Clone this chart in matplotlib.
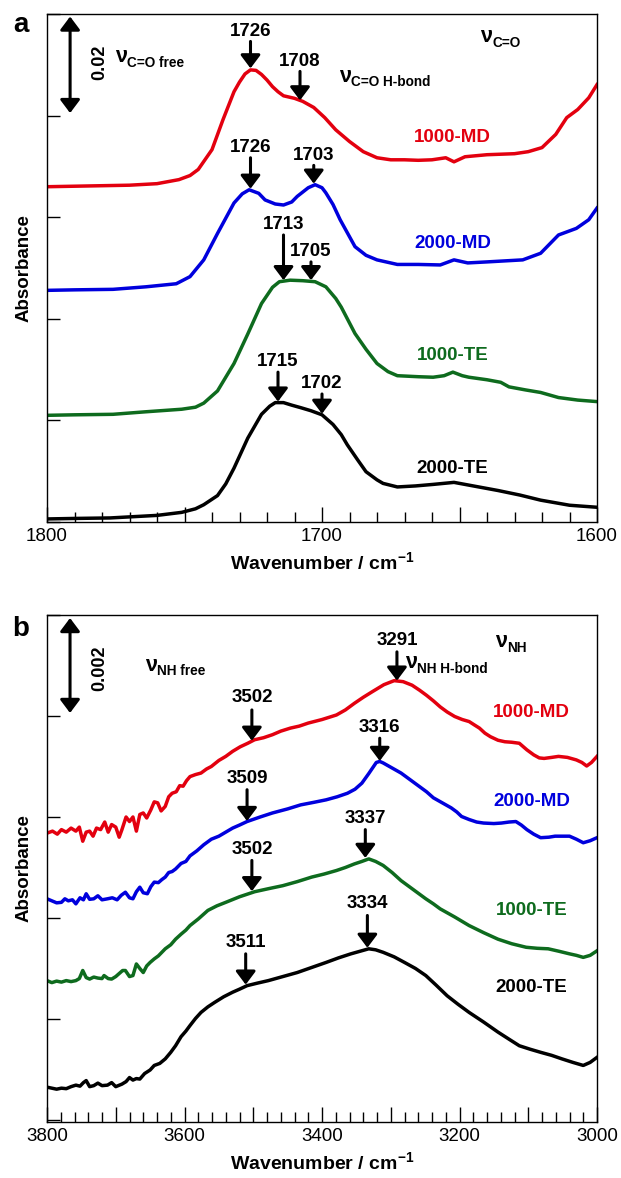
import numpy as np
import matplotlib
matplotlib.use('Agg')
import matplotlib.pyplot as plt
from matplotlib.ticker import MultipleLocator, FuncFormatter

plt.rcParams['font.family'] = ['Liberation Sans', 'DejaVu Sans']
plt.rcParams['mathtext.fontset'] = 'custom'
plt.rcParams['mathtext.rm'] = 'Liberation Sans'
plt.rcParams['mathtext.bf'] = 'Liberation Sans:bold'

RED, BLUE, GREEN, BLACK = '#e3000f', '#0000dd', '#0e6b1e', 'black'

# ---- panel a : C=O region (wavenumber, absorbance) ----
wn_a_md1 = [1800, 1790, 1780, 1770, 1760, 1752, 1748, 1745, 1740, 1736, 1732, 1730, 1728, 1726, 1724,
            1722, 1720, 1718, 1716, 1714, 1710, 1707, 1703, 1699, 1695, 1690, 1685, 1680, 1675, 1670,
            1665, 1660, 1655, 1652, 1648, 1640, 1630, 1625, 1620, 1615, 1611, 1607, 1603, 1600]
ab_a_md1 = [0.0660, 0.0661, 0.0662, 0.0663, 0.0666, 0.0674, 0.0682, 0.0694, 0.0733, 0.0792, 0.0847,
            0.0866, 0.0882, 0.0890, 0.0889, 0.0881, 0.0870, 0.0857, 0.0847, 0.0839, 0.0834, 0.0828,
            0.0816, 0.0796, 0.0772, 0.0749, 0.0729, 0.0717, 0.0713, 0.0713, 0.0712, 0.0713, 0.0717,
            0.0709, 0.0719, 0.0723, 0.0725, 0.0729, 0.0737, 0.0763, 0.0796, 0.0812, 0.0835, 0.0861]

wn_a_md2 = [1800, 1790, 1776, 1764, 1753, 1748, 1743, 1738, 1732, 1729, 1726.5, 1723, 1720.7, 1717,
            1714, 1711, 1709, 1705, 1702.5, 1700, 1698.6, 1696, 1693.4, 1688, 1684, 1680, 1672.6,
            1665, 1657, 1652, 1647, 1640, 1627, 1620.5, 1614, 1607.5, 1603, 1600]
ab_a_md2 = [0.0456, 0.0457, 0.0458, 0.0463, 0.0469, 0.0483, 0.0516, 0.0568, 0.0628, 0.0646, 0.0654,
            0.0647, 0.0634, 0.0626, 0.0624, 0.0630, 0.0641, 0.0658, 0.0664, 0.0658, 0.0648, 0.0625,
            0.0595, 0.0542, 0.0525, 0.0516, 0.0507, 0.0507, 0.0506, 0.0516, 0.0510, 0.0512, 0.0516,
            0.0529, 0.0565, 0.0578, 0.0595, 0.0618]

wn_a_te1 = [1800, 1790, 1776, 1764, 1751, 1746, 1743, 1738, 1732, 1727, 1722, 1718, 1715.5, 1711.6,
            1707, 1702.5, 1698.6, 1695, 1693, 1688, 1684, 1680, 1676, 1672.6, 1665, 1659.6, 1655.6,
            1652.4, 1649, 1646.6, 1640, 1635, 1632, 1626, 1620.5, 1614, 1607, 1600]
ab_a_te1 = [0.0210, 0.0211, 0.0212, 0.0217, 0.0222, 0.0226, 0.0234, 0.0258, 0.0312, 0.0370, 0.0430,
            0.0462, 0.0473, 0.0476, 0.0475, 0.0473, 0.0463, 0.0440, 0.0423, 0.0371, 0.0340, 0.0312,
            0.0296, 0.0288, 0.0286, 0.0285, 0.0288, 0.0295, 0.0288, 0.0285, 0.0280, 0.0275, 0.0266,
            0.0260, 0.0255, 0.0245, 0.0240, 0.0237]

wn_a_te2 = [1800, 1790, 1777, 1760, 1751, 1746, 1743, 1738, 1735, 1732, 1727, 1722, 1719, 1717, 1714,
            1711, 1707.7, 1704, 1700, 1696, 1693, 1690.8, 1687, 1684, 1680, 1677.8, 1672.6, 1666,
            1659.6, 1652, 1645, 1636, 1628, 1620.5, 1610, 1600]
ab_a_te2 = [0.0006, 0.0007, 0.0008, 0.0013, 0.0019, 0.0026, 0.0034, 0.0052, 0.0075, 0.0106, 0.0165,
            0.0212, 0.0228, 0.0235, 0.0235, 0.0230, 0.0225, 0.0219, 0.0211, 0.0192, 0.0172, 0.0152,
            0.0122, 0.0099, 0.0083, 0.0076, 0.0069, 0.0071, 0.0074, 0.0078, 0.0071, 0.0062, 0.0053,
            0.0043, 0.0033, 0.0029]

# ---- panel b : N-H region ----
wn_b_md1 = [3800, 3792, 3785, 3779, 3772, 3765, 3758, 3753, 3748, 3743, 3738, 3733, 3728, 3722, 3716,
            3711, 3706, 3700, 3695, 3691, 3685, 3680, 3675, 3670, 3665, 3660, 3655, 3649, 3644, 3639,
            3634, 3628, 3623, 3618, 3612, 3607, 3602, 3597, 3592, 3584, 3576, 3568, 3561, 3550, 3540,
            3530, 3519, 3508, 3498, 3485, 3472, 3460, 3446, 3433, 3420, 3400, 3379, 3366, 3353, 3340,
            3327, 3310, 3295, 3282, 3269, 3258, 3248, 3238, 3228, 3218, 3207, 3196, 3186, 3178, 3171,
            3163, 3155, 3144, 3134, 3124, 3113, 3102, 3092, 3084, 3077, 3066, 3056, 3043, 3030, 3022,
            3015, 3008, 3000]
ab_b_md1 = [0.00568, 0.00572, 0.00566, 0.00575, 0.00570, 0.00578, 0.00572, 0.00580, 0.00552, 0.00570,
            0.00572, 0.00562, 0.00578, 0.00575, 0.00590, 0.00570, 0.00585, 0.00580, 0.00560, 0.00575,
            0.00600, 0.00591, 0.00600, 0.00572, 0.00605, 0.00608, 0.00598, 0.00614, 0.00630, 0.00628,
            0.00612, 0.00621, 0.00640, 0.00647, 0.00650, 0.00662, 0.00661, 0.00672, 0.00680, 0.00684,
            0.00687, 0.00695, 0.00700, 0.00712, 0.00720, 0.00730, 0.00739, 0.00746, 0.00753, 0.00757,
            0.00763, 0.00770, 0.00776, 0.00780, 0.00786, 0.00793, 0.00802, 0.00812, 0.00825, 0.00837,
            0.00848, 0.00862, 0.00870, 0.00868, 0.00861, 0.00851, 0.00841, 0.00830, 0.00818, 0.00808,
            0.00799, 0.00793, 0.00789, 0.00782, 0.00776, 0.00766, 0.00759, 0.00752, 0.00749, 0.00748,
            0.00746, 0.00733, 0.00723, 0.00717, 0.00716, 0.00718, 0.00720, 0.00718, 0.00713, 0.00708,
            0.00701, 0.00708, 0.00720]

wn_b_md2 = [3800, 3793, 3786, 3779, 3774, 3769, 3763, 3758, 3752, 3747, 3743, 3738, 3732, 3726, 3720,
            3712, 3705, 3698, 3692, 3686, 3680, 3675, 3670, 3665, 3660, 3654, 3649, 3644, 3638, 3633,
            3628, 3623, 3618, 3613, 3605, 3598, 3592, 3587, 3582, 3572, 3561, 3550, 3540, 3530, 3520,
            3509, 3490, 3472, 3450, 3431, 3412, 3394, 3378, 3363, 3352, 3342, 3332, 3321, 3316, 3311,
            3298, 3285, 3272, 3259, 3248, 3238, 3225, 3212, 3204, 3197, 3186, 3175, 3165, 3150, 3139,
            3128, 3118, 3110, 3102, 3092, 3082, 3070, 3061, 3050, 3040, 3030, 3020, 3010, 3000]
ab_b_md2 = [0.00438, 0.00434, 0.00430, 0.00431, 0.00438, 0.00434, 0.00436, 0.00428, 0.00440, 0.00436,
            0.00448, 0.00437, 0.00438, 0.00444, 0.00436, 0.00438, 0.00440, 0.00436, 0.00445, 0.00451,
            0.00440, 0.00438, 0.00452, 0.00461, 0.00450, 0.00448, 0.00462, 0.00471, 0.00470, 0.00476,
            0.00481, 0.00490, 0.00492, 0.00497, 0.00508, 0.00512, 0.00523, 0.00528, 0.00533, 0.00545,
            0.00556, 0.00562, 0.00570, 0.00578, 0.00584, 0.00591, 0.00600, 0.00608, 0.00616, 0.00624,
            0.00629, 0.00634, 0.00640, 0.00647, 0.00655, 0.00667, 0.00686, 0.00708, 0.00710, 0.00707,
            0.00697, 0.00687, 0.00674, 0.00661, 0.00650, 0.00638, 0.00628, 0.00618, 0.00610, 0.00601,
            0.00595, 0.00590, 0.00588, 0.00587, 0.00588, 0.00590, 0.00591, 0.00584, 0.00575, 0.00566,
            0.00559, 0.00560, 0.00562, 0.00562, 0.00562, 0.00556, 0.00549, 0.00553, 0.00559]

wn_b_te1 = [3800, 3793, 3786, 3779, 3772, 3765, 3758, 3753, 3748, 3743, 3738, 3732, 3726, 3720, 3717,
            3711, 3706, 3700, 3695, 3690, 3686, 3680, 3675, 3670, 3665, 3660, 3655, 3650, 3644, 3638,
            3633, 3628, 3620, 3613, 3605, 3598, 3592, 3580, 3566, 3553, 3540, 3520, 3498, 3478, 3457,
            3436, 3415, 3397, 3379, 3366, 3353, 3342, 3332, 3322, 3311, 3298, 3285, 3267, 3249, 3238,
            3228, 3207, 3186, 3165, 3144, 3124, 3103, 3087, 3071, 3055, 3040, 3030, 3020, 3010, 3000]
ab_b_te1 = [0.00276, 0.00272, 0.00275, 0.00273, 0.00276, 0.00274, 0.00276, 0.00280, 0.00296, 0.00282,
            0.00279, 0.00283, 0.00281, 0.00280, 0.00286, 0.00280, 0.00279, 0.00284, 0.00290, 0.00296,
            0.00296, 0.00284, 0.00286, 0.00309, 0.00300, 0.00292, 0.00305, 0.00312, 0.00319, 0.00325,
            0.00332, 0.00339, 0.00347, 0.00358, 0.00368, 0.00376, 0.00385, 0.00398, 0.00415, 0.00424,
            0.00431, 0.00442, 0.00452, 0.00458, 0.00464, 0.00472, 0.00481, 0.00487, 0.00494, 0.00500,
            0.00507, 0.00512, 0.00517, 0.00512, 0.00504, 0.00490, 0.00474, 0.00456, 0.00438, 0.00428,
            0.00418, 0.00402, 0.00385, 0.00371, 0.00358, 0.00349, 0.00342, 0.00340, 0.00339, 0.00334,
            0.00329, 0.00326, 0.00322, 0.00326, 0.00335]

wn_b_te2 = [3800, 3793, 3786, 3779, 3772, 3765, 3758, 3752, 3747, 3743, 3738, 3732, 3726, 3720, 3712,
            3706, 3700, 3691, 3685, 3680, 3675, 3670, 3665, 3658, 3650, 3644, 3636, 3628, 3620, 3613,
            3605, 3598, 3592, 3584, 3576, 3566, 3556, 3543, 3530, 3520, 3509, 3494, 3478, 3457, 3436,
            3415, 3394, 3376, 3358, 3345, 3332, 3322, 3311, 3295, 3280, 3264, 3249, 3234, 3218, 3202,
            3186, 3165, 3144, 3128, 3113, 3097, 3082, 3066, 3051, 3035, 3020, 3010, 3000]
ab_b_te2 = [0.00065, 0.00063, 0.00061, 0.00063, 0.00062, 0.00066, 0.00069, 0.00067, 0.00074, 0.00078,
            0.00066, 0.00068, 0.00073, 0.00068, 0.00069, 0.00074, 0.00066, 0.00071, 0.00076, 0.00084,
            0.00079, 0.00082, 0.00081, 0.00092, 0.00099, 0.00108, 0.00112, 0.00121, 0.00134, 0.00147,
            0.00165, 0.00176, 0.00187, 0.00201, 0.00213, 0.00224, 0.00233, 0.00244, 0.00253, 0.00259,
            0.00266, 0.00271, 0.00276, 0.00284, 0.00292, 0.00302, 0.00312, 0.00321, 0.00329, 0.00334,
            0.00339, 0.00337, 0.00332, 0.00323, 0.00312, 0.00300, 0.00286, 0.00267, 0.00246, 0.00229,
            0.00213, 0.00194, 0.00174, 0.00160, 0.00147, 0.00140, 0.00134, 0.00128, 0.00121, 0.00114,
            0.00108, 0.00114, 0.00124]

names = ['1000-MD', '2000-MD', '1000-TE', '2000-TE']
colors = [RED, BLUE, GREEN, BLACK]

# peak labels: (wavenumber, label, arrow tip, arrow tail, label y)
peaks_a = [(1726, '1726', 0.0893, 0.0946, 0.0965), (1708, '1708', 0.0830, 0.0887, 0.0907),
           (1726, '1726', 0.0656, 0.0717, 0.0737), (1703, '1703', 0.0666, 0.0702, 0.0722),
           (1714, '1713', 0.0476, 0.0565, 0.0586), (1704, '1705', 0.0476, 0.0512, 0.0532),
           (1716, '1715', 0.0237, 0.0295, 0.0316), (1700, '1702', 0.0213, 0.0252, 0.0273)]
peaks_b = [(3502, '3502', 0.00751, 0.00812, 0.00836), (3291, '3291', 0.00870, 0.00927, 0.00950),
           (3316, '3316', 0.00711, 0.00756, 0.00778), (3509, '3509', 0.00592, 0.00654, 0.00676),
           (3337, '3337', 0.00519, 0.00575, 0.00597), (3502, '3502', 0.00453, 0.00514, 0.00535),
           (3334, '3334', 0.00341, 0.00405, 0.00428), (3511, '3511', 0.00268, 0.00329, 0.00352)]
names_y_a = [0.0757, 0.0549, 0.0328, 0.0106]
names_y_b = [0.00806, 0.00631, 0.00415, 0.00263]

fig = plt.figure(figsize=(6.21, 11.78), dpi=100)
ax_a = fig.add_axes([47/621, 1 - 522/1178, 550/621, 508/1178])
ax_b = fig.add_axes([47/621, 1 - 1122/1178, 550/621, 507/1178])

ARW = dict(arrowstyle='-|>,head_length=0.4,head_width=0.3', lw=2.2, color='k',
           shrinkA=0, shrinkB=0, mutation_scale=20)
DARW = dict(arrowstyle='<|-|>,head_length=0.4,head_width=0.3', lw=2.2, color='k',
            shrinkA=0, shrinkB=0, mutation_scale=20)


def nu(ax, x, y, sub):
    ax.text(x, y, 'ν', fontsize=15.5, fontweight='bold', va='baseline', ha='left')
    ax.annotate(sub, xy=(x, y), xytext=(8.8, -3.5), textcoords='offset points',
                fontsize=9.8, fontweight='bold', va='baseline', ha='left')


def style(ax, xlim, ylim, major, minor, lab_step, ystep):
    ax.set_xlim(*xlim)
    ax.set_ylim(*ylim)
    ax.xaxis.set_major_locator(MultipleLocator(major))
    ax.xaxis.set_minor_locator(MultipleLocator(minor))
    ax.xaxis.set_major_formatter(FuncFormatter(
        lambda v, p: '%d' % round(v) if round(v) % lab_step == 0 else ''))
    ax.yaxis.set_major_locator(MultipleLocator(ystep))
    ax.yaxis.set_major_formatter(FuncFormatter(lambda v, p: ''))
    ax.tick_params(axis='x', which='major', direction='in', length=10.5, width=1,
                   labelsize=13.5, pad=4)
    ax.tick_params(axis='x', which='minor', direction='in', length=7, width=1)
    ax.tick_params(axis='y', which='major', direction='in', length=9, width=1)
    for s in ax.spines.values():
        s.set_linewidth(1.0)
    ax.set_xlabel('Wavenumber / cm$^{\\mathbf{-1}}$', fontsize=14, fontweight='bold', labelpad=5)
    ax.set_ylabel('Absorbance', fontsize=13.5, fontweight='bold', labelpad=7)


# panel a
curves_a = [(wn_a_md1, ab_a_md1), (wn_a_md2, ab_a_md2), (wn_a_te1, ab_a_te1), (wn_a_te2, ab_a_te2)]
for (x, y), c in zip(curves_a, colors):
    ax_a.plot(x, y, color=c, lw=2.5, solid_joinstyle='round')
for n, c, ny in zip(names, colors, names_y_a):
    ax_a.text(1652.5, ny, n, color=c, fontsize=13.5, fontweight='bold', ha='center', va='center')
for x, lab, tip, tail, ly in peaks_a:
    ax_a.annotate('', xy=(x, tip), xytext=(x, tail), arrowprops=ARW)
    ax_a.text(x, ly, lab, ha='center', va='center', fontsize=13.5, fontweight='bold')
ax_a.annotate('', xy=(1791.6, 0.0805), xytext=(1791.6, 0.0995), arrowprops=DARW)
ax_a.text(1780.7, 0.0904, '0.02', rotation=90, fontsize=13, fontweight='bold',
          ha='center', va='center')
nu(ax_a, 1775.3, 0.0906, 'C=O free')
nu(ax_a, 1693.8, 0.0867, 'C=O H-bond')
nu(ax_a, 1642.5, 0.0944, 'C=O')
style(ax_a, (1800, 1600), (0, 0.1), 50, 10, 100, 0.02)

# panel b
curves_b = [(wn_b_md1, ab_b_md1), (wn_b_md2, ab_b_md2), (wn_b_te1, ab_b_te1), (wn_b_te2, ab_b_te2)]
for (x, y), c in zip(curves_b, colors):
    ax_b.plot(x, y, color=c, lw=2.5, solid_joinstyle='round')
for n, c, ny in zip(names, colors, names_y_b):
    ax_b.text(3095, ny, n, color=c, fontsize=13.5, fontweight='bold', ha='center', va='center')
for x, lab, tip, tail, ly in peaks_b:
    ax_b.annotate('', xy=(x, tip), xytext=(x, tail), arrowprops=ARW)
    ax_b.text(x, ly, lab, ha='center', va='center', fontsize=13.5, fontweight='bold')
ax_b.annotate('', xy=(3766.5, 0.00806), xytext=(3766.5, 0.00994), arrowprops=DARW)
ax_b.text(3722.9, 0.00895, '0.002', rotation=90, fontsize=13, fontweight='bold',
          ha='center', va='center')
nu(ax_b, 3657.5, 0.0089, 'NH free')
nu(ax_b, 3279, 0.00895, 'NH H-bond')
nu(ax_b, 3148, 0.00937, 'NH')
style(ax_b, (3800, 3000), (-0.00004, 0.01), 100, 20, 200, 0.002)

fig.text(21/621, 1 - 25/1178, 'a', fontsize=20, fontweight='bold', ha='center', va='center')
fig.text(21/621, 1 - 629/1178, 'b', fontsize=20, fontweight='bold', ha='center', va='center')

fig.savefig('out.png', dpi=100)
